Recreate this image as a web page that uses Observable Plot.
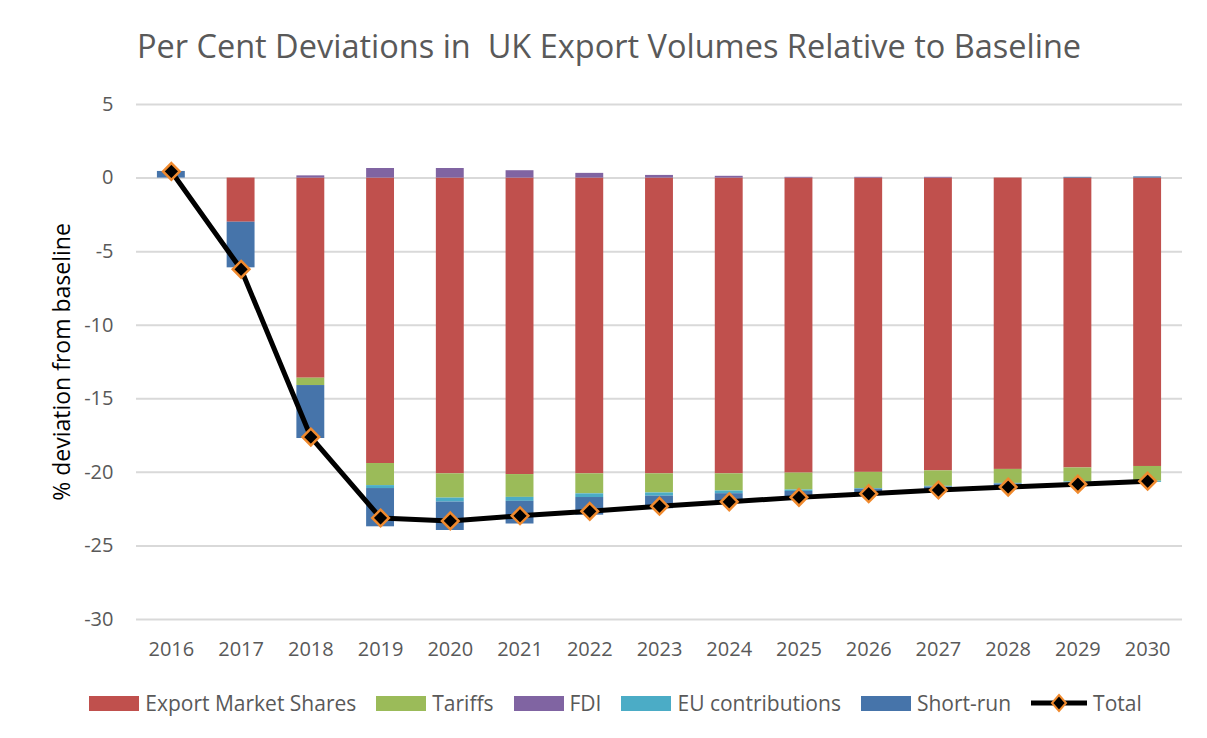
<!DOCTYPE html>
<html>
<head>
<meta charset="utf-8">
<script src="https://cdn.jsdelivr.net/npm/d3@7"></script>
<script src="https://cdn.jsdelivr.net/npm/@observablehq/plot@0.6"></script>
<style>
  html, body { margin: 0; padding: 0; background: #fff; }
  #wrap { position: relative; width: 1207px; height: 738px; overflow: hidden; font-family: "Open Sans", sans-serif; }
  #title { position: absolute; left: 0; width: 1218px; top: 24px; text-align: center; font-size: 32.5px; line-height: 44px; color: #595959; white-space: pre; }
  #chart { position: absolute; left: 0; top: 0; }
  #legend { position: absolute; left: 0; width: 1231px; top: 689px; display: flex; justify-content: center; align-items: center; font-size: 21px; color: #595959; }
  .item { display: flex; align-items: center; margin: 0 10px; }
  .sw { width: 50px; height: 15px; margin-right: 6px; }
</style>
</head>
<body>
<div id="wrap">
  <div id="chart"></div>
  <div id="title">Per Cent Deviations in  UK Export Volumes Relative to Baseline</div>
  <div id="legend"></div>
</div>
<script>
const years = ["2016","2017","2018","2019","2020","2021","2022","2023","2024","2025","2026","2027","2028","2029","2030"];
const seriesNames = ["Export Market Shares", "Tariffs", "FDI", "EU contributions", "Short-run"];
const seriesColors = ["#C0504D", "#9BBB59", "#8064A2", "#4BACC6", "#4674AA"];
const exportMarketShares = [0, -3.0, -13.6, -19.4, -20.1, -20.15, -20.1, -20.1, -20.1, -20.05, -20.0, -19.9, -19.8, -19.7, -19.6];
const tariffs = [0, 0, -0.5, -1.5, -1.65, -1.55, -1.36, -1.3, -1.17, -1.15, -1.1, -1.05, -0.95, -0.95, -1.0];
const fdi = [0, 0, 0.15, 0.65, 0.65, 0.5, 0.32, 0.18, 0.12, 0.05, 0.05, 0.05, 0, 0, 0];
const euContributions = [0, 0, 0, -0.2, -0.27, -0.27, -0.25, -0.22, -0.18, -0.1, -0.05, -0.05, -0.05, -0.05, -0.08];
const shortRun = [0.45, -3.1, -3.6, -2.6, -1.93, -1.54, -1.2, -0.85, -0.67, -0.35, -0.35, -0.25, -0.2, 0.05, 0.08];
const total = [0.45, -6.2, -17.6, -23.1, -23.3, -22.95, -22.65, -22.3, -22.0, -21.7, -21.45, -21.2, -21.0, -20.8, -20.6];
const yTicks = [5, 0, -5, -10, -15, -20, -25, -30];

const seriesValues = [exportMarketShares, tariffs, fdi, euContributions, shortRun];
const bars = [];
years.forEach((yr, i) => {
  seriesNames.forEach((s, k) => bars.push({year: yr, series: s, value: seriesValues[k][i]}));
});
const totals = years.map((yr, i) => ({year: yr, value: total[i]}));

const chart = Plot.plot({
  width: 1207,
  height: 680,
  marginLeft: 136,
  marginRight: 25,
  marginTop: 104,
  marginBottom: 61,
  style: {fontFamily: "Open Sans, sans-serif", color: "#595959", background: "transparent"},
  x: {domain: years, paddingInner: 0.6, paddingOuter: 0.3, round: false, label: null},
  y: {domain: [-30, 5], label: null},
  color: {domain: seriesNames, range: seriesColors},
  marks: [
    Plot.gridY(yTicks, {stroke: "#D9D9D9", strokeOpacity: 1, strokeWidth: 2}),
    Plot.axisY(yTicks, {tickSize: 0, tickPadding: 23, fontSize: 20, tickFormat: d => String(d), fill: "#595959"}),
    Plot.axisX({tickSize: 0, tickPadding: 22, fontSize: 20, fill: "#595959"}),
    Plot.barY(bars, Plot.stackY({x: "year", y: "value", fill: "series", order: null})),
    Plot.line(totals, {x: "year", y: "value", stroke: "#000", strokeWidth: 5}),
    Plot.dot(totals, {x: "year", y: "value", symbol: "diamond2", r: 7.5, fill: "#000", stroke: "#F08A2E", strokeWidth: 2.5}),
    Plot.text(["% deviation from baseline"], {frameAnchor: "left", dx: -74, rotate: -90, textAnchor: "middle", fontSize: 23, fill: "#000", text: d => d})
  ]
});
document.getElementById("chart").appendChild(chart);

const legend = document.getElementById("legend");
seriesNames.forEach((s, k) => {
  const it = document.createElement("div");
  it.className = "item";
  it.innerHTML = `<div class="sw" style="background:${seriesColors[k]}"></div><span>${s}</span>`;
  legend.appendChild(it);
});
const tot = document.createElement("div");
tot.className = "item";
tot.innerHTML = `<svg width="56" height="20" style="margin-right:6px"><line x1="0" y1="10" x2="56" y2="10" stroke="#000" stroke-width="5"/><path d="M28,2 L35,10 L28,18 L21,10 Z" fill="#000" stroke="#F08A2E" stroke-width="2"/></svg><span>Total</span>`;
legend.appendChild(tot);
</script>
</body>
</html>
